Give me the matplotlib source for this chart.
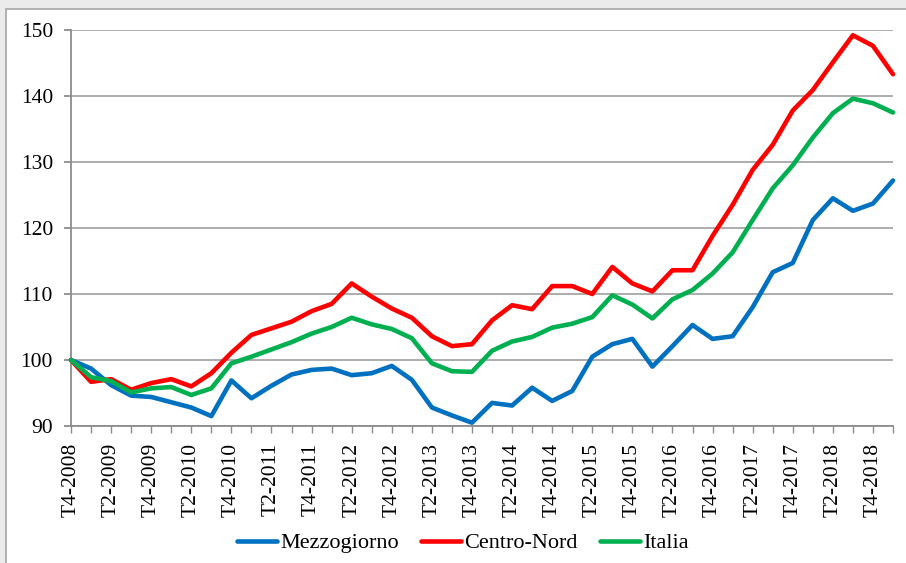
import matplotlib
matplotlib.use("Agg")
import matplotlib.pyplot as plt
from matplotlib.patches import Rectangle

plt.rcParams["font.family"] = ["Liberation Serif", "DejaVu Serif"]

# ── Dati (indice, T4-2008 = 100) ─────────────────────────────────────────────
trimestri = [
    "T4-2008", "T1-2009", "T2-2009", "T3-2009", "T4-2009", "T1-2010", "T2-2010",
    "T3-2010", "T4-2010", "T1-2011", "T2-2011", "T3-2011", "T4-2011", "T1-2012",
    "T2-2012", "T3-2012", "T4-2012", "T1-2013", "T2-2013", "T3-2013", "T4-2013",
    "T1-2014", "T2-2014", "T3-2014", "T4-2014", "T1-2015", "T2-2015", "T3-2015",
    "T4-2015", "T1-2016", "T2-2016", "T3-2016", "T4-2016", "T1-2017", "T2-2017",
    "T3-2017", "T4-2017", "T1-2018", "T2-2018", "T3-2018", "T4-2018", "T1-2019",
]
mezzogiorno = [
    100.0, 98.7, 96.2, 94.6, 94.4, 93.6, 92.8, 91.5, 96.9, 94.2, 96.1, 97.8,
    98.5, 98.7, 97.7, 98.0, 99.1, 97.0, 92.8, 91.6, 90.5, 93.5, 93.1, 95.8,
    93.8, 95.3, 100.5, 102.4, 103.2, 99.0, 102.1, 105.3, 103.2, 103.6, 108.0,
    113.3, 114.7, 121.2, 124.5, 122.6, 123.7, 127.2,
]
centro_nord = [
    100.0, 96.7, 97.1, 95.5, 96.5, 97.1, 96.0, 98.0, 101.1, 103.8, 104.8, 105.8,
    107.4, 108.5, 111.6, 109.6, 107.8, 106.4, 103.6, 102.1, 102.4, 106.0, 108.3,
    107.7, 111.2, 111.2, 110.0, 114.1, 111.6, 110.4, 113.6, 113.6, 118.8, 123.5,
    128.8, 132.6, 137.8, 140.9, 145.1, 149.2, 147.6, 143.3,
]
italia = [
    100.0, 97.4, 96.8, 95.1, 95.7, 95.9, 94.7, 95.7, 99.5, 100.5, 101.6, 102.7,
    104.0, 105.0, 106.4, 105.4, 104.7, 103.3, 99.5, 98.3, 98.2, 101.4, 102.8,
    103.5, 104.9, 105.5, 106.5, 109.8, 108.4, 106.3, 109.2, 110.6, 113.1, 116.3,
    121.2, 126.0, 129.5, 133.7, 137.4, 139.6, 138.9, 137.5,
]

C_BLU = "#0070C0"
C_ROSSO = "#FF0000"
C_VERDE = "#00B050"
C_GRIGIO = "#8c8c8c"

W, H = 906, 563
fig = plt.figure(figsize=(W / 100, H / 100), dpi=100)
fig.patch.set_facecolor("#ebebeb")

# riquadro bianco del grafico (bordo grigio)
fig.patches.append(Rectangle((6 / W, -0.01), 1.0, 1.01 - 9 / H, transform=fig.transFigure,
                             facecolor="white", edgecolor="#a6a6a6", lw=1.2, zorder=-5))

ax = fig.add_axes([71 / W, 1 - 426 / H, (893 - 71) / W, (426 - 30) / H])
ax.set_zorder(2)
ax.set_facecolor("white")

x = list(range(len(trimestri)))
for serie, col, nome in [(mezzogiorno, C_BLU, "Mezzogiorno"),
                         (centro_nord, C_ROSSO, "Centro-Nord"),
                         (italia, C_VERDE, "Italia")]:
    ax.plot(x, serie, color=col, lw=3.3, label=nome, clip_on=False,
            solid_joinstyle="round", solid_capstyle="round", zorder=3)

ax.set_xlim(0, len(trimestri) - 1)
ax.set_ylim(90, 150)
ax.set_yticks(range(90, 151, 10))
ax.yaxis.grid(True, color="#a6a6a6", lw=1.3)
ax.set_axisbelow(True)

ax.set_xticks(x, minor=True)
ax.set_xticks(x[::2])
ax.set_xticklabels(trimestri[::2], rotation=90, va="top", ha="center")

for s in ["top", "right"]:
    ax.spines[s].set_visible(False)
for s in ["left", "bottom"]:
    ax.spines[s].set_color(C_GRIGIO)
    ax.spines[s].set_linewidth(1.3)

ax.tick_params(axis="y", direction="out", length=5, width=1.3, color=C_GRIGIO,
               labelsize=15.5, pad=8)
ax.tick_params(axis="x", which="both", direction="out", length=5, width=1.0,
               color=C_GRIGIO, labelsize=15.5, pad=7)

leg = fig.legend(loc="center", bbox_to_anchor=(463 / W, 1 - 543 / H), ncol=3, frameon=False,
                 fontsize=16, handlelength=1.8, handletextpad=0.15, columnspacing=1.0)
leg.set_zorder(3)
for l in leg.get_lines():
    l.set_linewidth(3.3)

plt.savefig("out.png", dpi=100, facecolor=fig.get_facecolor())
